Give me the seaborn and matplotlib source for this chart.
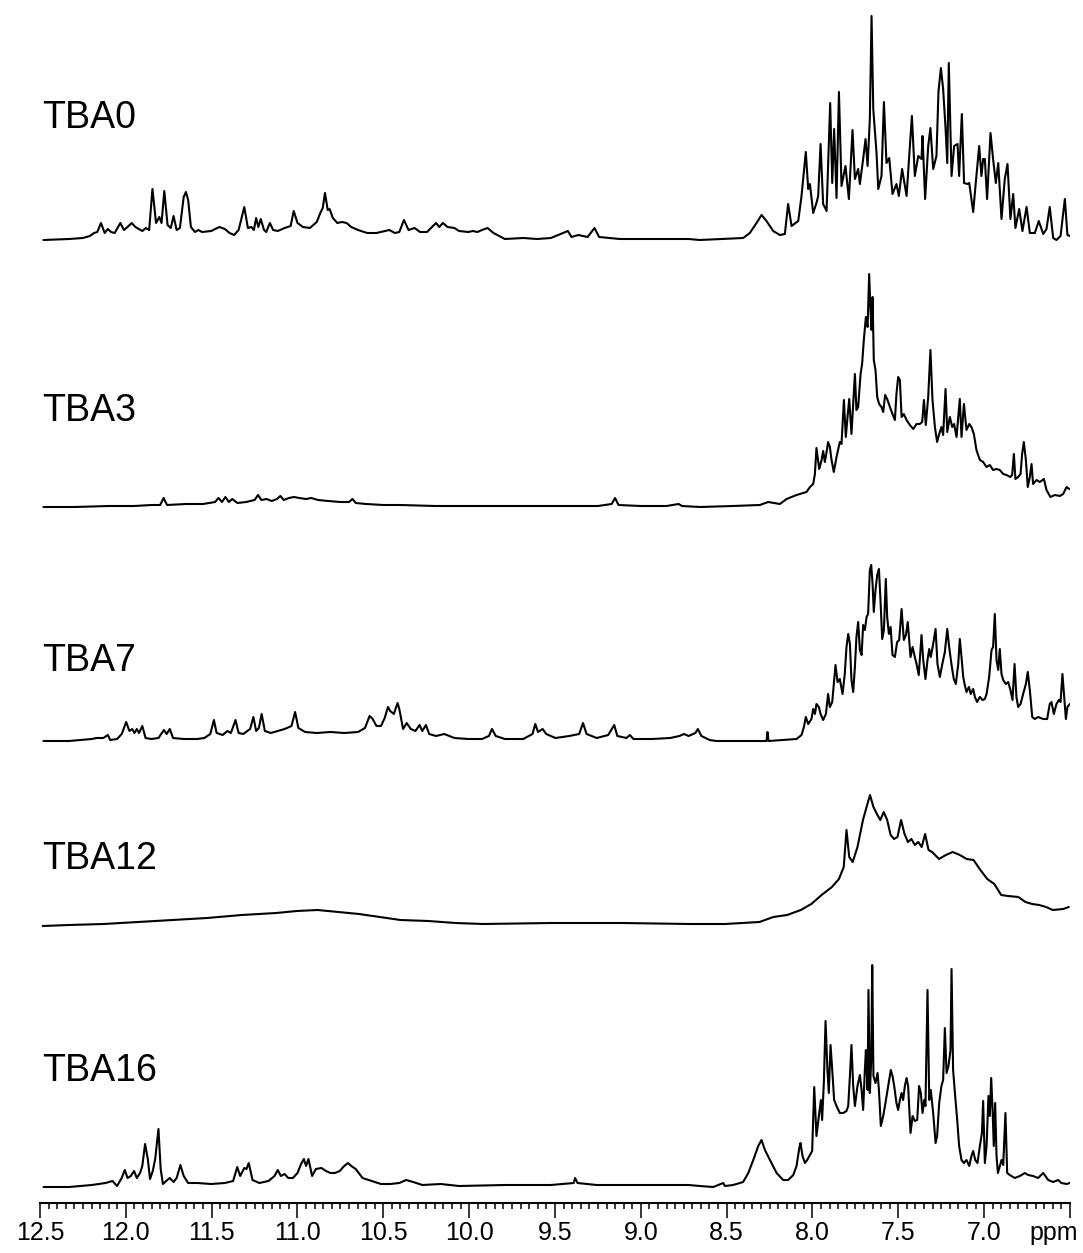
import matplotlib
matplotlib.use("Agg")
import pandas as pd
import seaborn as sns
from matplotlib import pyplot as plt
from matplotlib.ticker import FixedLocator, FixedFormatter, MultipleLocator

sns.set_theme(style="white")
plt.rcParams["font.family"] = ["Liberation Sans", "DejaVu Sans"]

# sample names, top to bottom
samples = ["TBA0", "TBA3", "TBA7", "TBA12", "TBA16"]

# (ppm, intensity) points
tba0_trace = [
    (12.48, 0), (12.33, 1), (12.25, 2), (12.21, 4), (12.185, 7), (12.166, 8), (12.145, 17),
    (12.123, 7), (12.105, 11), (12.086, 8), (12.065, 7), (12.032, 17), (12.011, 10), (11.990, 13),
    (11.966, 17), (11.944, 13), (11.925, 11), (11.904, 9), (11.883, 12), (11.864, 10), (11.845, 51),
    (11.824, 17), (11.805, 23), (11.792, 17), (11.776, 49), (11.757, 15), (11.738, 12), (11.722, 24),
    (11.704, 10), (11.685, 12), (11.663, 43), (11.650, 48), (11.637, 40), (11.621, 13), (11.597, 8),
    (11.578, 10), (11.556, 8), (11.503, 9), (11.455, 13), (11.423, 11), (11.396, 7), (11.369, 5),
    (11.343, 10), (11.310, 33), (11.289, 12), (11.268, 13), (11.254, 10), (11.241, 22), (11.228, 13),
    (11.214, 21), (11.195, 10), (11.182, 8), (11.161, 17), (11.142, 10), (11.115, 9), (11.075, 12),
    (11.040, 14), (11.022, 29), (11.000, 17), (10.968, 13), (10.928, 12), (10.888, 18), (10.867, 27),
    (10.853, 32), (10.840, 47), (10.824, 30), (10.813, 31), (10.794, 22), (10.768, 17), (10.741, 18),
    (10.714, 17), (10.687, 13), (10.647, 10), (10.594, 7), (10.540, 7), (10.465, 10), (10.433, 7),
    (10.407, 8), (10.380, 20), (10.353, 10), (10.318, 12), (10.286, 8), (10.246, 8), (10.193, 17),
    (10.174, 13), (10.153, 17), (10.126, 13), (10.086, 12), (10.059, 9), (10.005, 8), (9.979, 9),
    (9.952, 8), (9.925, 10), (9.893, 12), (9.858, 7), (9.792, 1), (9.685, 2), (9.605, 1), (9.524, 2),
    (9.425, 9), (9.404, 3), (9.364, 5), (9.310, 3), (9.270, 12), (9.243, 3), (9.123, 1), (8.989, 1),
    (8.722, 1), (8.656, 0), (8.404, 2), (8.365, 7), (8.326, 17), (8.297, 25), (8.268, 19), (8.229, 9),
    (8.190, 5), (8.161, 6), (8.142, 36), (8.122, 14), (8.083, 19), (8.064, 44), (8.039, 88),
    (8.025, 51), (8.015, 56), (7.996, 27), (7.977, 37), (7.967, 44), (7.953, 96), (7.938, 36),
    (7.918, 29), (7.897, 137), (7.885, 57), (7.874, 111), (7.860, 42), (7.846, 148), (7.831, 54),
    (7.808, 74), (7.788, 41), (7.767, 110), (7.753, 61), (7.734, 71), (7.724, 56), (7.705, 81),
    (7.691, 101), (7.679, 74), (7.666, 121), (7.656, 224), (7.646, 131), (7.627, 87), (7.617, 51),
    (7.598, 64), (7.584, 138), (7.569, 77), (7.553, 82), (7.534, 46), (7.511, 56), (7.497, 44),
    (7.478, 71), (7.452, 44), (7.421, 124), (7.404, 64), (7.384, 84), (7.365, 81), (7.359, 104),
    (7.344, 41), (7.326, 94), (7.313, 112), (7.297, 71), (7.278, 84), (7.266, 149), (7.252, 172),
    (7.239, 151), (7.225, 112), (7.215, 77), (7.206, 177), (7.190, 64), (7.175, 94), (7.155, 96),
    (7.146, 64), (7.130, 126), (7.117, 57), (7.097, 56), (7.087, 57), (7.064, 28), (7.049, 57),
    (7.029, 94), (7.016, 64), (7.006, 81), (6.996, 81), (6.983, 41), (6.963, 107), (6.948, 81),
    (6.932, 57), (6.918, 77), (6.899, 21), (6.880, 61), (6.864, 76), (6.847, 21), (6.831, 46),
    (6.818, 12), (6.796, 31), (6.777, 9), (6.753, 33), (6.734, 7), (6.705, 7), (6.682, 19),
    (6.656, 6), (6.637, 11), (6.618, 33), (6.598, 2), (6.579, 0), (6.555, 4), (6.530, 41),
    (6.515, 5), (6.500, 4),
]

tba3_trace = [
    (12.48, 0), (12.30, 0), (12.10, 1), (11.95, 1), (11.85, 2), (11.80, 2), (11.78, 9), (11.76, 2),
    (11.65, 3), (11.55, 3), (11.48, 5), (11.46, 9), (11.44, 5), (11.42, 10), (11.40, 5), (11.38, 8),
    (11.35, 4), (11.30, 5), (11.25, 7), (11.23, 12), (11.21, 7), (11.18, 8), (11.15, 6), (11.12, 8),
    (11.10, 11), (11.08, 7), (11.05, 9), (11.02, 10), (10.99, 9), (10.95, 8), (10.92, 9), (10.88, 7),
    (10.82, 6), (10.75, 5), (10.70, 5), (10.68, 8), (10.66, 4), (10.60, 3), (10.50, 2), (10.40, 2),
    (10.20, 1), (10.00, 1), (9.80, 1), (9.60, 1), (9.40, 1), (9.25, 1), (9.17, 3), (9.15, 9),
    (9.13, 2), (9.00, 1), (8.85, 1), (8.78, 3), (8.76, 1), (8.656, 0), (8.462, 1), (8.307, 2),
    (8.258, 5), (8.190, 3), (8.151, 8), (8.093, 12), (8.035, 15), (8.015, 20), (7.996, 23),
    (7.986, 33), (7.977, 59), (7.961, 38), (7.947, 47), (7.938, 56), (7.928, 45), (7.918, 55),
    (7.909, 65), (7.899, 60), (7.889, 47), (7.876, 35), (7.860, 50), (7.841, 65), (7.831, 63),
    (7.817, 107), (7.806, 70), (7.796, 90), (7.786, 108), (7.773, 73), (7.763, 103), (7.753, 133),
    (7.744, 97), (7.734, 100), (7.720, 133), (7.711, 143), (7.701, 167), (7.689, 190), (7.679, 180),
    (7.670, 233), (7.662, 197), (7.656, 177), (7.650, 210), (7.643, 147), (7.633, 137), (7.623, 110),
    (7.612, 103), (7.598, 100), (7.588, 95), (7.577, 112), (7.565, 108), (7.549, 100), (7.534, 93),
    (7.520, 87), (7.511, 113), (7.501, 130), (7.491, 127), (7.481, 90), (7.468, 93), (7.452, 87),
    (7.433, 82), (7.413, 78), (7.394, 83), (7.375, 83), (7.361, 85), (7.351, 107), (7.340, 82),
    (7.326, 110), (7.313, 157), (7.301, 107), (7.287, 80), (7.274, 65), (7.262, 73), (7.249, 80),
    (7.239, 72), (7.225, 118), (7.215, 75), (7.200, 90), (7.186, 80), (7.175, 83), (7.161, 70),
    (7.142, 108), (7.132, 70), (7.118, 103), (7.103, 77), (7.087, 83), (7.074, 80), (7.060, 73),
    (7.045, 57), (7.025, 47), (7.006, 45), (6.986, 40), (6.967, 42), (6.948, 37), (6.928, 38),
    (6.909, 37), (6.889, 33), (6.870, 32), (6.847, 30), (6.837, 32), (6.827, 53), (6.818, 28),
    (6.802, 30), (6.788, 33), (6.779, 53), (6.769, 65), (6.757, 47), (6.746, 20), (6.734, 30),
    (6.724, 43), (6.715, 23), (6.695, 27), (6.676, 25), (6.652, 28), (6.637, 17), (6.614, 10),
    (6.588, 12), (6.559, 11), (6.540, 13), (6.520, 20), (6.505, 18),
]

tba7_trace = [
    (12.48, 0), (12.332, 0), (12.198, 2), (12.171, 3), (12.131, 3), (12.105, 6), (12.091, 1),
    (12.051, 2), (12.024, 7), (11.998, 19), (11.979, 10), (11.963, 12), (11.950, 8), (11.936, 12),
    (11.923, 8), (11.904, 15), (11.885, 3), (11.851, 2), (11.810, 3), (11.778, 11), (11.762, 7),
    (11.744, 12), (11.725, 3), (11.663, 2), (11.583, 2), (11.543, 3), (11.508, 7), (11.487, 21),
    (11.471, 8), (11.436, 6), (11.409, 10), (11.388, 8), (11.361, 21), (11.343, 8), (11.316, 7),
    (11.276, 12), (11.257, 24), (11.241, 10), (11.225, 13), (11.209, 27), (11.190, 10), (11.155, 8),
    (11.115, 10), (11.075, 12), (11.035, 15), (11.014, 29), (10.995, 13), (10.955, 9), (10.888, 8),
    (10.808, 9), (10.728, 8), (10.647, 9), (10.607, 13), (10.580, 25), (10.562, 22), (10.540, 15),
    (10.514, 15), (10.492, 23), (10.473, 34), (10.460, 30), (10.439, 27), (10.417, 38), (10.407, 32),
    (10.385, 12), (10.364, 18), (10.340, 12), (10.313, 10), (10.289, 16), (10.273, 10), (10.252, 16),
    (10.233, 7), (10.193, 5), (10.145, 7), (10.086, 3), (10.005, 2), (9.925, 2), (9.885, 5),
    (9.867, 12), (9.845, 5), (9.792, 2), (9.685, 2), (9.631, 7), (9.615, 17), (9.599, 9),
    (9.572, 12), (9.551, 7), (9.498, 3), (9.417, 5), (9.359, 7), (9.337, 18), (9.316, 7),
    (9.257, 3), (9.190, 6), (9.155, 16), (9.137, 5), (9.083, 3), (9.064, 6), (9.043, 2),
    (8.936, 2), (8.829, 3), (8.775, 5), (8.749, 7), (8.722, 5), (8.682, 8), (8.668, 12),
    (8.647, 5), (8.600, 1), (8.559, 0), (8.462, 0), (8.365, 0), (8.268, 0), (8.262, 9),
    (8.256, 0), (8.171, 1), (8.093, 2), (8.064, 6), (8.050, 14), (8.039, 24), (8.025, 17),
    (8.006, 22), (7.996, 32), (7.986, 27), (7.977, 37), (7.963, 34), (7.953, 27), (7.938, 21),
    (7.922, 27), (7.909, 47), (7.899, 34), (7.885, 39), (7.876, 57), (7.866, 76), (7.854, 59),
    (7.841, 62), (7.825, 47), (7.812, 67), (7.802, 94), (7.792, 107), (7.782, 97), (7.773, 61),
    (7.763, 49), (7.753, 74), (7.744, 104), (7.734, 119), (7.724, 91), (7.714, 86), (7.705, 116),
    (7.695, 111), (7.685, 124), (7.676, 127), (7.666, 171), (7.658, 176), (7.650, 157), (7.643, 129),
    (7.633, 151), (7.623, 166), (7.613, 172), (7.604, 141), (7.594, 102), (7.584, 111), (7.573, 162),
    (7.565, 124), (7.555, 107), (7.545, 114), (7.534, 86), (7.520, 84), (7.507, 99), (7.495, 101),
    (7.481, 132), (7.468, 101), (7.456, 106), (7.445, 119), (7.429, 84), (7.417, 94), (7.404, 84),
    (7.394, 77), (7.381, 66), (7.365, 106), (7.355, 81), (7.342, 62), (7.330, 81), (7.320, 92),
    (7.311, 84), (7.297, 97), (7.283, 112), (7.272, 77), (7.258, 64), (7.245, 76), (7.229, 89),
    (7.215, 112), (7.204, 94), (7.190, 76), (7.177, 62), (7.165, 57), (7.151, 77), (7.142, 102),
    (7.132, 84), (7.122, 64), (7.113, 56), (7.103, 49), (7.089, 54), (7.078, 47), (7.064, 52),
    (7.054, 44), (7.041, 39), (7.025, 44), (7.010, 41), (6.996, 42), (6.986, 47), (6.971, 64),
    (6.957, 91), (6.948, 94), (6.938, 127), (6.928, 81), (6.918, 71), (6.909, 92), (6.899, 67),
    (6.889, 61), (6.874, 57), (6.860, 59), (6.847, 51), (6.835, 41), (6.823, 77), (6.812, 44),
    (6.802, 34), (6.788, 37), (6.773, 47), (6.757, 57), (6.746, 69), (6.734, 51), (6.720, 24),
    (6.705, 22), (6.686, 24), (6.656, 22), (6.633, 22), (6.618, 37), (6.608, 39), (6.594, 27),
    (6.579, 37), (6.565, 41), (6.555, 39), (6.544, 67), (6.534, 44), (6.524, 22), (6.515, 34),
    (6.501, 37),
]

tba12_trace = [
    (12.484, 1), (12.331, 2), (12.130, 3), (11.929, 5), (11.728, 7), (11.527, 9), (11.325, 12),
    (11.124, 14), (11.004, 16), (10.883, 17), (10.762, 15), (10.642, 13), (10.521, 10), (10.400, 7),
    (10.239, 6), (10.078, 4), (9.918, 3), (9.515, 4), (9.113, 4), (8.711, 3), (8.510, 3), (8.309, 5),
    (8.228, 10), (8.148, 12), (8.068, 17), (8.007, 23), (7.947, 32), (7.887, 40), (7.846, 48),
    (7.818, 60), (7.802, 97), (7.786, 70), (7.766, 65), (7.738, 80), (7.706, 107), (7.685, 120),
    (7.665, 132), (7.645, 120), (7.625, 113), (7.605, 107), (7.585, 115), (7.565, 107), (7.545, 92),
    (7.525, 88), (7.505, 90), (7.484, 107), (7.464, 93), (7.444, 85), (7.424, 88), (7.404, 82),
    (7.384, 85), (7.364, 80), (7.344, 93), (7.324, 77), (7.303, 75), (7.263, 68), (7.223, 72),
    (7.183, 75), (7.142, 72), (7.102, 68), (7.062, 67), (7.022, 57), (6.982, 48), (6.941, 43),
    (6.901, 32), (6.861, 31), (6.801, 30), (6.760, 25), (6.720, 23), (6.680, 22), (6.640, 20),
    (6.600, 17), (6.539, 18), (6.507, 20),
]

tba16_trace = [
    (12.479, 0), (12.332, 0), (12.198, 2), (12.118, 4), (12.078, 6), (12.051, 1), (12.024, 9),
    (12.006, 17), (11.990, 9), (11.971, 11), (11.952, 16), (11.936, 9), (11.917, 14), (11.904, 21),
    (11.888, 43), (11.872, 28), (11.859, 8), (11.843, 16), (11.829, 28), (11.810, 58), (11.797, 18),
    (11.784, 3), (11.765, 6), (11.744, 9), (11.722, 5), (11.704, 9), (11.682, 22), (11.663, 11),
    (11.637, 4), (11.583, 4), (11.503, 3), (11.423, 4), (11.375, 6), (11.351, 20), (11.334, 11),
    (11.310, 19), (11.297, 18), (11.284, 24), (11.262, 7), (11.222, 4), (11.169, 6), (11.134, 11),
    (11.115, 17), (11.097, 11), (11.075, 13), (11.054, 9), (11.027, 9), (11.000, 14), (10.979, 23),
    (10.963, 28), (10.950, 21), (10.936, 28), (10.915, 11), (10.893, 18), (10.861, 19), (10.834, 16),
    (10.808, 14), (10.781, 14), (10.754, 16), (10.728, 21), (10.706, 24), (10.687, 21), (10.661, 18),
    (10.621, 9), (10.567, 6), (10.514, 3), (10.460, 3), (10.407, 4), (10.367, 7), (10.326, 5),
    (10.273, 2), (10.166, 3), (10.059, 1), (9.792, 2), (9.524, 2), (9.391, 4), (9.383, 9),
    (9.369, 4), (9.257, 2), (8.989, 2), (8.722, 2), (8.656, 1), (8.578, 0), (8.520, 4), (8.510, 1),
    (8.462, 2), (8.404, 5), (8.374, 14), (8.345, 27), (8.316, 41), (8.297, 47), (8.277, 37),
    (8.248, 27), (8.209, 14), (8.171, 7), (8.142, 7), (8.112, 12), (8.093, 21), (8.077, 39),
    (8.070, 44), (8.058, 31), (8.044, 24), (8.031, 27), (8.015, 32), (8.002, 36), (7.990, 100),
    (7.977, 51), (7.963, 71), (7.951, 87), (7.944, 67), (7.934, 104), (7.924, 166), (7.913, 117),
    (7.905, 94), (7.895, 142), (7.885, 117), (7.874, 87), (7.860, 81), (7.841, 74), (7.821, 74),
    (7.802, 76), (7.792, 81), (7.782, 111), (7.773, 142), (7.763, 101), (7.753, 81), (7.738, 101),
    (7.724, 112), (7.714, 97), (7.705, 77), (7.695, 117), (7.689, 137), (7.679, 97), (7.674, 197),
    (7.666, 94), (7.658, 127), (7.652, 222), (7.645, 111), (7.633, 104), (7.621, 114), (7.613, 97),
    (7.602, 61), (7.588, 71), (7.575, 84), (7.559, 101), (7.544, 117), (7.534, 111), (7.524, 101),
    (7.511, 84), (7.501, 77), (7.491, 87), (7.481, 94), (7.472, 87), (7.462, 101), (7.452, 109),
    (7.443, 101), (7.429, 54), (7.417, 71), (7.404, 66), (7.390, 67), (7.379, 101), (7.369, 94),
    (7.359, 74), (7.349, 87), (7.342, 81), (7.330, 197), (7.320, 87), (7.311, 97), (7.297, 74),
    (7.283, 44), (7.274, 51), (7.262, 84), (7.249, 101), (7.239, 107), (7.229, 159), (7.219, 114),
    (7.208, 121), (7.196, 137), (7.190, 218), (7.181, 117), (7.167, 87), (7.157, 67), (7.146, 41),
    (7.132, 27), (7.118, 24), (7.103, 27), (7.087, 21), (7.074, 31), (7.064, 36), (7.052, 27),
    (7.039, 24), (7.025, 41), (7.013, 54), (7.006, 86), (6.996, 24), (6.986, 41), (6.975, 91),
    (6.967, 71), (6.959, 109), (6.951, 77), (6.944, 41), (6.936, 84), (6.928, 31), (6.920, 14),
    (6.909, 21), (6.899, 27), (6.889, 22), (6.876, 74), (6.866, 14), (6.851, 12), (6.822, 9),
    (6.792, 11), (6.763, 14), (6.744, 12), (6.715, 11), (6.686, 9), (6.656, 14), (6.627, 7),
    (6.598, 5), (6.569, 7), (6.550, 4), (6.520, 3), (6.501, 4),
]

# ppm axis tick labels
tick_ppm = [12.5, 12.0, 11.5, 11.0, 10.5, 10.0, 9.5, 9.0, 8.5, 8.0, 7.5, 7.0, 6.5]
tick_labels = ["12.5", "12.0", "11.5", "11.0", "10.5", "10.0", "9.5", "9.0", "8.5",
               "8.0", "7.5", "7.0", ""]

traces = [tba0_trace, tba3_trace, tba7_trace, tba12_trace, tba16_trace]
# stacking: baseline of each trace above the ppm axis, and where its name sits
offsets = [963, 696, 462, 276, 16]
label_y = [1075, 782, 532, 334, 122]

frames = []
for name, trace, off in zip(samples, traces, offsets):
    d = pd.DataFrame(trace, columns=["ppm", "intensity"])
    d["sample"] = name
    d["y"] = d["intensity"] + off
    frames.append(d)
df = pd.concat(frames, ignore_index=True)

fig = plt.figure(figsize=(10.83, 12.53), dpi=100, facecolor="white")
ax = fig.add_axes([40 / 1083, 50 / 1253, 1030 / 1083, 1203 / 1253])
ax.patch.set_alpha(0)

sns.lineplot(data=df, x="ppm", y="y", units="sample", estimator=None, sort=False,
             color="black", linewidth=1.5, solid_joinstyle="round", ax=ax)

for name, ly in zip(samples, label_y):
    ax.text(12.49, ly, name, fontsize=27, ha="left", va="baseline", color="black")

ax.set_xlim(12.5, 6.5)
ax.set_ylim(0, 1203)
ax.set_xlabel("")
ax.set_ylabel("")
ax.set_yticks([])
for side in ["left", "right", "top"]:
    ax.spines[side].set_visible(False)
ax.spines["bottom"].set_color("black")
ax.spines["bottom"].set_linewidth(1.5)

ax.xaxis.set_major_locator(FixedLocator(tick_ppm))
ax.xaxis.set_major_formatter(FixedFormatter(tick_labels))
ax.xaxis.set_minor_locator(MultipleLocator(0.05))
ax.tick_params(axis="x", which="major", bottom=True, direction="out", length=11, width=1.1,
               pad=2, labelsize=18, colors="black")
ax.tick_params(axis="x", which="minor", bottom=True, direction="out", length=4.5, width=1.1,
               colors="black")

ax.annotate("ppm", xy=(6.5, 0), xycoords=("data", "axes fraction"), xytext=(6, -13),
            textcoords="offset points", ha="right", va="top", fontsize=18, color="black")

fig.savefig("out.png", dpi=100)
